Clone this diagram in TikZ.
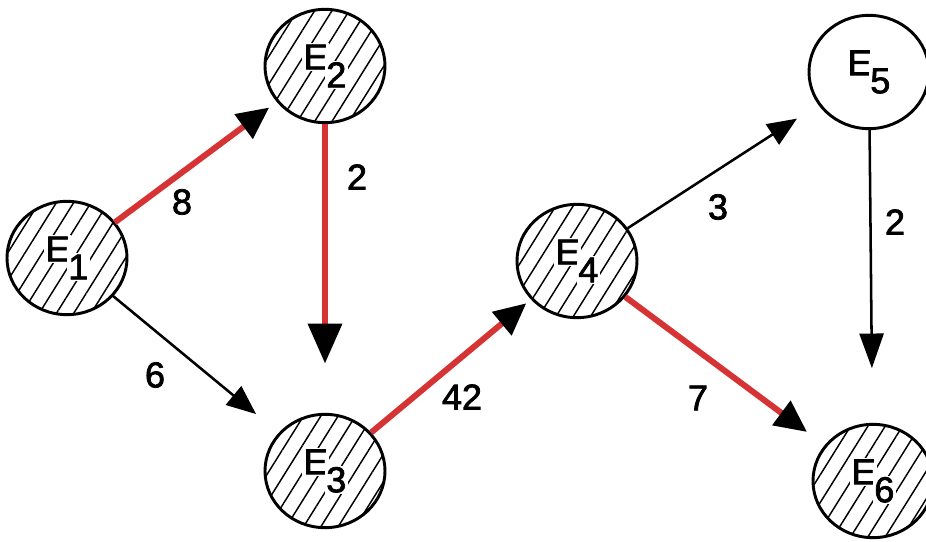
\documentclass[tikz,border=0pt]{standalone}
\usepackage{fontspec}
\setmainfont{Liberation Sans}
\newfontfamily\labfont[FakeBold=2]{Liberation Sans}
\usetikzlibrary{arrows.meta,patterns.meta,shapes.geometric}
\definecolor{cpred}{RGB}{214,52,52}
\newcommand{\evlabel}[2]{{\fboxsep=1pt\colorbox{white}{#1}\hspace{-3pt}\raisebox{-0.5em}{\colorbox{white}{#2}}}}
\begin{document}
\begin{tikzpicture}[x=0.75pt,y=-0.75pt,
  ev/.style={ellipse, draw=black, line width=2.2pt, minimum width=90pt, minimum height=85pt, inner sep=0pt,
    font=\labfont\fontsize{27}{31}\selectfont},
  hatched/.style={pattern={Lines[angle=58,distance=11pt,line width=1.1pt]}},
  tipbig/.tip={Triangle[length=24pt,width=22pt,color=black]},
  tiplong/.tip={Triangle[length=30pt,width=25pt,color=black]},
  redarr/.style={draw=cpred, line width=4.5pt, -tipbig},
  redlong/.style={draw=cpred, line width=4.5pt, -tiplong},
  blkarr/.style={draw=black, line width=1.9pt, -{Triangle[length=22pt,width=18pt]}},
  blklong/.style={draw=black, line width=1.9pt, -{Triangle[length=26pt,width=18pt]}},
  wlab/.style={font=\labfont\fontsize{27}{31}\selectfont, inner sep=1pt}
]
\useasboundingbox (0,0) rectangle (926,542);

% events
\node[ev, hatched] (e1) at (67,258) {\evlabel{E}{1}};
\node[ev, hatched] (e2) at (325,66) {\evlabel{E}{2}};
\node[ev, hatched] (e3) at (325,471) {\evlabel{E}{3}};
\node[ev, hatched] (e4) at (577,261) {\evlabel{E}{4}};
\node[ev, fill=white] (e5) at (869,72) {\evlabel{E}{5}};
\node[ev, hatched] (e6) at (873,481) {\evlabel{E}{6}};

% activities
\draw[redarr, shorten >=7pt] (e1) -- (e2);
\draw[redlong, shorten >=37pt] (e2) -- (e3);
\draw[blkarr, shorten >=22pt] (e1) -- (e3);
\draw[redarr, shorten >=4.5pt] (e3) -- (e4);
\draw[blkarr, shorten >=19pt] (e4) -- (e5);
\draw[redarr, shorten >=16.5pt] (e4) -- (e6);
\draw[blklong, shorten >=41pt] (e5) -- (e6);

% durations
\node[wlab] (l12) at (182,202) {8};
\node[wlab] (l23) at (357,177) {2};
\node[wlab] (l13) at (155,375) {6};
\node[wlab] (l34) at (462,397) {42};
\node[wlab] (l45) at (718,207) {3};
\node[wlab] (l46) at (698,398) {7};
\node[wlab] (l56) at (895,222) {2};
\end{tikzpicture}
\end{document}
